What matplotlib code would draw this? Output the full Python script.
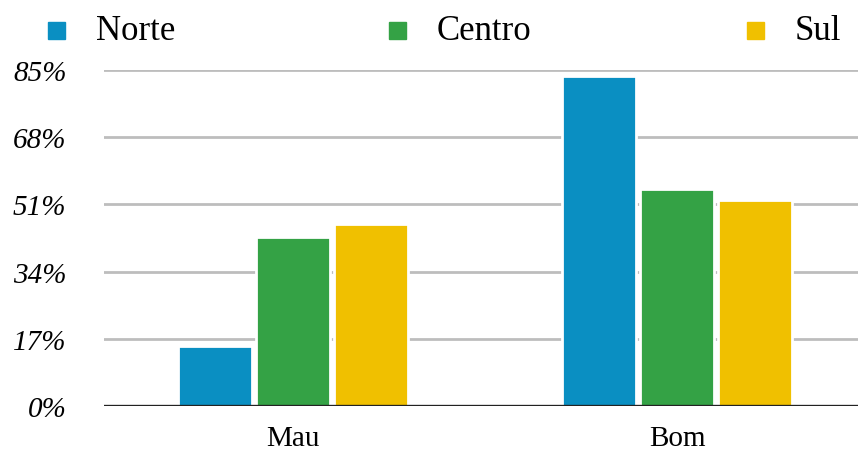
import numpy as np
import matplotlib.pyplot as plt

# Survey shares by rating and region
categories = ["Mau", "Bom"]
regions = ["Norte", "Centro", "Sul"]
norte = [15.2, 83.4]
centro = [42.8, 54.9]
sul = [46.0, 52.1]
yticks = [0, 17, 34, 51, 68, 85]

colors = ["#0a8fc2", "#34a245", "#f0c000"]
serif = ["Liberation Serif", "DejaVu Serif"]

fig = plt.figure(figsize=(8.58, 4.56), dpi=100)
ax = fig.add_axes([104 / 858, 49 / 456, 754 / 858, 336 / 456])

x = np.arange(len(categories))
step = 0.203
for i, (vals, c) in enumerate(zip([norte, centro, sul], colors)):
    ax.bar(x + (i - 1) * step, vals, 0.192, color=c, edgecolor="white",
           linewidth=2.0, zorder=3)

ax.set_xlim(-0.492, 1.471)
ax.set_ylim(0, 85)
ax.set_yticks(yticks)
ax.set_yticklabels([f"{v}%" for v in yticks], family=serif, style="italic",
                   fontsize=21)
ax.set_xticks(x)
ax.set_xticklabels(categories, family=serif, fontsize=21)
ax.tick_params(axis="y", length=0, pad=27)
ax.tick_params(axis="x", length=0, pad=14)

ax.grid(axis="y", color="#bdbdbd", linewidth=2.0, zorder=0)
ax.axhline(0, color="#222222", linewidth=2.4, zorder=4)
for s in ax.spines.values():
    s.set_visible(False)

# legend row across the top
for label, c, mx in zip(regions, colors, [57, 398, 756]):
    fig.patches.append(plt.Rectangle(((mx - 9) / 858, (456 - 40) / 456),
                                     17 / 858, 17 / 456, color=c,
                                     transform=fig.transFigure, figure=fig))
    fig.text((mx + 39) / 858, (456 - 31) / 456, label, family=serif,
             fontsize=25, va="center", ha="left")

fig.savefig("out.png", dpi=100)
